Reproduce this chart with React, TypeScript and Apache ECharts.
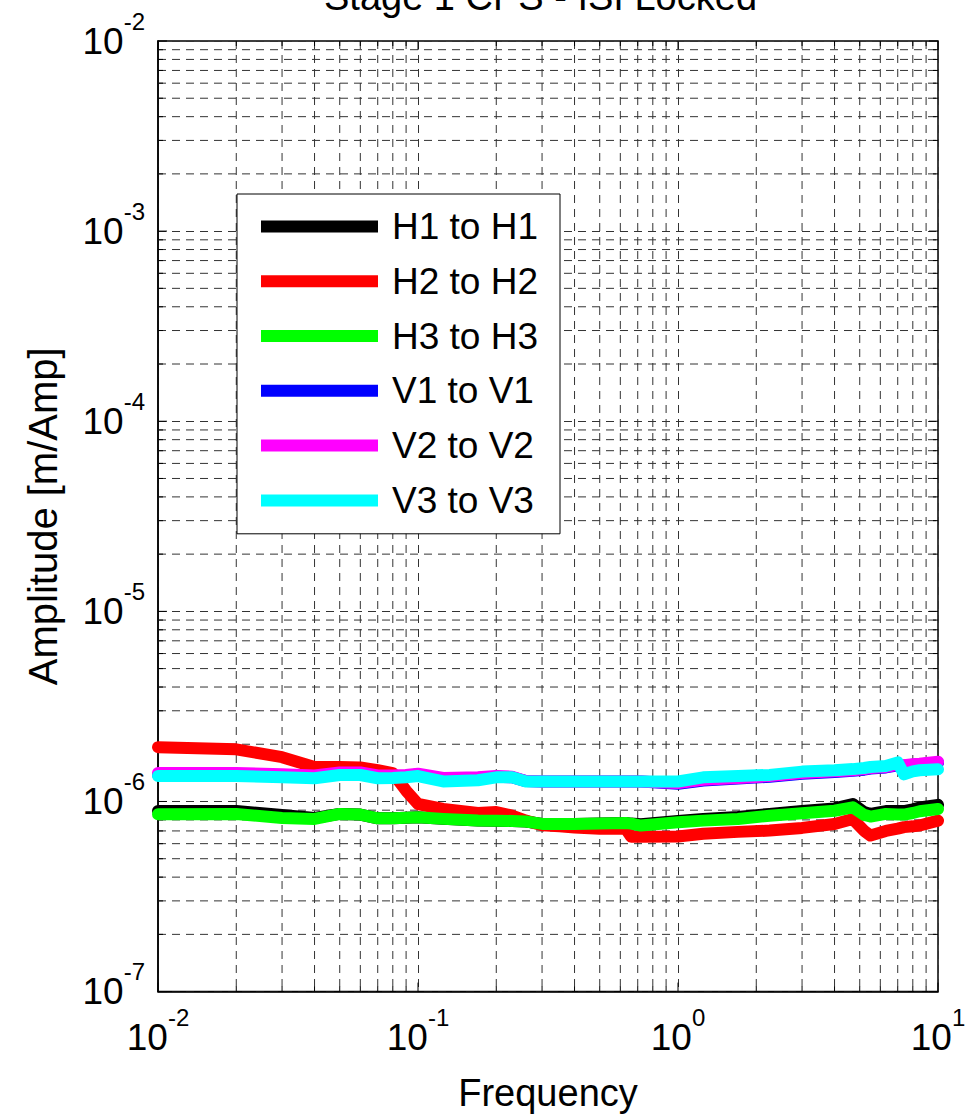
import React, { useEffect, useRef } from "react";
import * as echarts from "echarts";

const FONT = "'Liberation Sans', Arial, Helvetica, sans-serif";

const titleText = "Stage 1 CPS - ISI Locked";
const xName = "Frequency";
const yName = "Amplitude [m/Amp]";

const seriesNames = ["H1 to H1", "H2 to H2", "H3 to H3", "V1 to V1", "V2 to V2", "V3 to V3"];
const seriesColors = ["#000000", "#ff0000", "#00ff00", "#0000ff", "#ff00ff", "#00ffff"];

const freq = [0.01, 0.02, 0.03, 0.04, 0.05, 0.06, 0.07, 0.08, 0.09, 0.1, 0.125, 0.17, 0.2, 0.23, 0.26, 0.3, 0.35, 0.4, 0.5, 0.63, 0.66, 0.72, 1.0, 1.25, 1.7, 2.25, 3.0, 4.0, 4.7, 5.2, 5.5, 6.3, 7.0, 7.4, 8.0, 8.5, 10];

const h1 = [8.91e-7, 8.91e-7, 8.5e-7, 8.2e-7, 8.6e-7, 8.53e-7, 8.16e-7, 8.16e-7, 8.2e-7, 8.26e-7, 8.1e-7, 7.95e-7, 7.93e-7, 7.9e-7, 7.85e-7, 7.62e-7, 7.62e-7, 7.62e-7, 7.65e-7, 7.71e-7, 7.65e-7, 7.6e-7, 7.9e-7, 8.1e-7, 8.3e-7, 8.6e-7, 8.9e-7, 9.2e-7, 9.7e-7, 8.8e-7, 8.6e-7, 8.9e-7, 8.9e-7, 8.9e-7, 9.1e-7, 9.3e-7, 9.6e-7];
const h2 = [1.93e-6, 1.88e-6, 1.71e-6, 1.52e-6, 1.52e-6, 1.51e-6, 1.46e-6, 1.41e-6, 1.14e-6, 9.7e-7, 9.13e-7, 8.7e-7, 8.8e-7, 8.42e-7, 7.93e-7, 7.5e-7, 7.4e-7, 7.3e-7, 7.18e-7, 7.18e-7, 6.52e-7, 6.52e-7, 6.55e-7, 6.76e-7, 6.92e-7, 7.03e-7, 7.26e-7, 7.62e-7, 8.09e-7, 7.0e-7, 6.62e-7, 7.0e-7, 7.2e-7, 7.33e-7, 7.4e-7, 7.47e-7, 7.93e-7];
const h3 = [8.57e-7, 8.6e-7, 8.19e-7, 8.09e-7, 8.6e-7, 8.53e-7, 8.16e-7, 8.16e-7, 8.2e-7, 8.26e-7, 8.1e-7, 7.95e-7, 7.93e-7, 7.9e-7, 7.85e-7, 7.62e-7, 7.62e-7, 7.62e-7, 7.65e-7, 7.71e-7, 7.65e-7, 7.47e-7, 7.77e-7, 7.93e-7, 8.09e-7, 8.42e-7, 8.67e-7, 8.94e-7, 9.32e-7, 8.5e-7, 8.33e-7, 8.6e-7, 8.55e-7, 8.53e-7, 8.7e-7, 8.88e-7, 9.13e-7];
const v1 = [1.38e-6, 1.38e-6, 1.36e-6, 1.35e-6, 1.4e-6, 1.4e-6, 1.35e-6, 1.35e-6, 1.36e-6, 1.39e-6, 1.31e-6, 1.33e-6, 1.35e-6, 1.34e-6, 1.28e-6, 1.274e-6, 1.274e-6, 1.274e-6, 1.274e-6, 1.274e-6, 1.274e-6, 1.274e-6, 1.24e-6, 1.29e-6, 1.32e-6, 1.35e-6, 1.4e-6, 1.43e-6, 1.45e-6, 1.47e-6, 1.49e-6, 1.51e-6, 1.55e-6, 1.54e-6, 1.56e-6, 1.57e-6, 1.6e-6];
const v2 = [1.41e-6, 1.41e-6, 1.39e-6, 1.37e-6, 1.42e-6, 1.42e-6, 1.37e-6, 1.37e-6, 1.38e-6, 1.4e-6, 1.33e-6, 1.34e-6, 1.36e-6, 1.35e-6, 1.28e-6, 1.274e-6, 1.274e-6, 1.274e-6, 1.274e-6, 1.274e-6, 1.274e-6, 1.274e-6, 1.25e-6, 1.3e-6, 1.33e-6, 1.36e-6, 1.41e-6, 1.44e-6, 1.46e-6, 1.48e-6, 1.5e-6, 1.52e-6, 1.56e-6, 1.55e-6, 1.57e-6, 1.58e-6, 1.62e-6];
const v3 = [1.36e-6, 1.36e-6, 1.34e-6, 1.325e-6, 1.378e-6, 1.378e-6, 1.325e-6, 1.33e-6, 1.34e-6, 1.36e-6, 1.274e-6, 1.294e-6, 1.34e-6, 1.34e-6, 1.274e-6, 1.274e-6, 1.274e-6, 1.274e-6, 1.274e-6, 1.274e-6, 1.274e-6, 1.274e-6, 1.274e-6, 1.34e-6, 1.36e-6, 1.38e-6, 1.436e-6, 1.459e-6, 1.48e-6, 1.5e-6, 1.518e-6, 1.536e-6, 1.605e-6, 1.39e-6, 1.44e-6, 1.46e-6, 1.476e-6];

const seriesValues = [h1, h2, h3, v1, v2, v3];

const xMin = 0.01;
const xMax = 10;
const yMin = 1e-7;
const yMax = 1e-2;
const xDecades = [0.01, 0.1, 1, 10];
const yDecades = [1e-7, 1e-6, 1e-5, 1e-4, 1e-3, 1e-2];
const minorMultipliers = [2, 3, 4, 5, 6, 7, 8, 9];

const GRID_COLOR = "#333333";
const GRID_DASH = [8, 6];

function expLabel(value: number) {
  const e = Math.round(Math.log10(value));
  return `{b|10}{s|${e}}`;
}

const labelRich = {
  b: { fontSize: 37, lineHeight: 37, fontFamily: FONT, color: "#000" },
  s: { fontSize: 24, lineHeight: 24, fontFamily: FONT, color: "#000", padding: [0, 0, 40, 0] },
};

export default function App() {
  const ref = useRef<HTMLDivElement>(null);

  useEffect(() => {
    if (!ref.current) return;
    const chart = echarts.init(ref.current, null, { renderer: "svg" });

    // grid/tick positions: [value, isMinor]
    const xLines: number[][] = [];
    xDecades.forEach((d) => {
      if (d < xMax) minorMultipliers.forEach((m) => xLines.push([d * m, yMin, 1]));
      xLines.push([d, yMin, 0]);
    });
    const yLines: number[][] = [];
    yDecades.forEach((d) => {
      if (d < yMax) minorMultipliers.forEach((m) => yLines.push([xMin, d * m, 1]));
      yLines.push([xMin, d, 0]);
    });

    const gridLineSeries = (data: number[][], vertical: boolean) => ({
      type: "custom",
      silent: true,
      z: 1,
      data,
      renderItem: (params: any, api: any) => {
        const cs = params.coordSys;
        const p = api.coord([api.value(0), api.value(1)]);
        const minor = api.value(2) === 1;
        const tl = minor ? 5 : 9;
        const children: any[] = [];
        const tickStyle = { stroke: "#000", lineWidth: 1 };
        if (vertical) {
          if (minor) {
            children.push({
              type: "line",
              shape: { x1: p[0], y1: cs.y, x2: p[0], y2: cs.y + cs.height },
              style: { stroke: GRID_COLOR, lineWidth: 1, lineDash: GRID_DASH },
            });
          }
          children.push({ type: "line", shape: { x1: p[0], y1: cs.y, x2: p[0], y2: cs.y + tl }, style: tickStyle });
          children.push({ type: "line", shape: { x1: p[0], y1: cs.y + cs.height - tl, x2: p[0], y2: cs.y + cs.height }, style: tickStyle });
        } else {
          if (minor) {
            children.push({
              type: "line",
              shape: { x1: cs.x, y1: p[1], x2: cs.x + cs.width, y2: p[1] },
              style: { stroke: GRID_COLOR, lineWidth: 1, lineDash: GRID_DASH },
            });
          }
          children.push({ type: "line", shape: { x1: cs.x, y1: p[1], x2: cs.x + tl, y2: p[1] }, style: tickStyle });
          children.push({ type: "line", shape: { x1: cs.x + cs.width - tl, y1: p[1], x2: cs.x + cs.width, y2: p[1] }, style: tickStyle });
        }
        return { type: "group", children };
      },
    });

    const option: any = {
      animation: false,
      backgroundColor: "#fff",
      textStyle: { fontFamily: FONT },
      title: {
        text: titleText,
        left: 319,
        top: -27,
        textStyle: { fontSize: 38, fontWeight: "normal", color: "#000", fontFamily: FONT },
      },
      grid: {
        left: 158,
        top: 41,
        width: 780,
        height: 958,
        show: true,
        borderColor: "#000",
        borderWidth: 1.5,
        backgroundColor: "transparent",
      },
      legend: {
        data: seriesNames,
        orient: "vertical",
        left: 237,
        top: 194,
        backgroundColor: "#fff",
        borderColor: "#000",
        borderWidth: 1,
        padding: [5, 22, 6, 24],
        itemWidth: 117,
        itemHeight: 12,
        itemGap: 0,
        icon: "rect",
        selectedMode: false,
        textStyle: { fontSize: 37, lineHeight: 54.8, fontFamily: FONT, color: "#000", padding: [0, 0, 0, 9] },
      },
      xAxis: {
        type: "log",
        logBase: 10,
        min: xMin,
        max: xMax,
        name: xName,
        nameLocation: "middle",
        nameGap: 76,
        nameTextStyle: { fontSize: 38, color: "#000", fontFamily: FONT },
        axisLine: { show: true, lineStyle: { color: "#000", width: 1.5 } },
        axisTick: { show: false },
        axisLabel: {
          margin: 27,
          formatter: expLabel,
          rich: labelRich,
          showMinLabel: true,
          showMaxLabel: true,
        },
        splitLine: { show: true, lineStyle: { color: GRID_COLOR, width: 1, type: GRID_DASH } },
      },
      yAxis: {
        type: "log",
        logBase: 10,
        min: yMin,
        max: yMax,
        name: yName,
        nameLocation: "middle",
        nameGap: 95,
        nameTextStyle: { fontSize: 40, color: "#000", fontFamily: FONT },
        axisLine: { show: true, lineStyle: { color: "#000", width: 1.5 } },
        axisTick: { show: false },
        axisLabel: {
          margin: 13,
          formatter: expLabel,
          rich: labelRich,
          showMinLabel: true,
          showMaxLabel: true,
        },
        splitLine: { show: true, lineStyle: { color: GRID_COLOR, width: 1, type: GRID_DASH } },
      },
      series: [
        gridLineSeries(xLines, true),
        gridLineSeries(yLines, false),
        ...seriesNames.map((name, i) => ({
          name,
          type: "line",
          z: 3,
          data: freq.map((f, j) => [f, seriesValues[i][j]]),
          showSymbol: false,
          symbol: "none",
          color: seriesColors[i],
          lineStyle: { width: 12, color: seriesColors[i], join: "round", cap: "round" },
          silent: true,
        })),
      ],
    };

    chart.setOption(option);
    return () => chart.dispose();
  }, []);

  return (
    <div
      ref={ref}
      style={{ position: "fixed", left: 0, top: 0, width: 980, height: 1117, background: "#fff" }}
    />
  );
}
